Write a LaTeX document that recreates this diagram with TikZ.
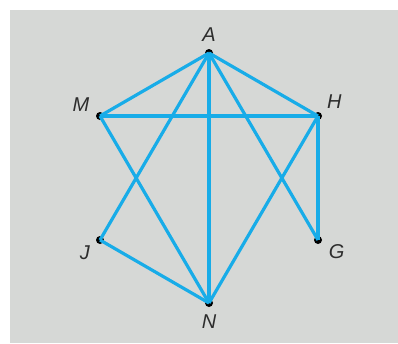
\documentclass[tikz,border=0pt]{standalone}
\usepackage{fontspec}
\setmainfont{Liberation Sans}
\usetikzlibrary{positioning}
\definecolor{edgeblue}{RGB}{24,172,232}
\definecolor{panel}{RGB}{214,216,214}
\definecolor{ink}{RGB}{45,45,45}

\begin{document}
\begin{tikzpicture}[x=1pt,y=-1pt,
        dot/.style={circle,fill=black,inner sep=0pt,minimum size=8pt},
        lbl/.style={font=\fontsize{20}{20}\selectfont\itshape,text=ink,inner sep=1pt,label distance=6pt},
        edge/.style={draw=edgeblue,line width=3.2pt}]
        \useasboundingbox (0,0) rectangle (398,343);
        \fill[panel] (10,10) rectangle (398,343);

        \node (A)[dot,label={[lbl]90:A}] at (209,53) {};
        \node (M)[dot,label={[lbl]160:M}] at (100,116) {};
        \node (H)[dot,label={[lbl]38:H}] at (318,116) {};
        \node (J)[dot,label={[lbl]208:J}] at (100,240) {};
        \node (G)[dot,label={[lbl]-20:G}] at (318,240) {};
        \node (N)[dot,label={[lbl]-90:N}] at (209,303) {};

        \draw [edge] (A.center) -- (M.center);
        \draw [edge] (A.center) -- (H.center);
        \draw [edge] (A.center) -- (N.center);
        \draw [edge] (A.center) -- (J.center);
        \draw [edge] (A.center) -- (G.center);
        \draw [edge] (M.center) -- (H.center);
        \draw [edge] (M.center) -- (N.center);
        \draw [edge] (H.center) -- (N.center);
        \draw [edge] (H.center) -- (G.center);
        \draw [edge] (J.center) -- (N.center);
    \end{tikzpicture}
\end{document}
